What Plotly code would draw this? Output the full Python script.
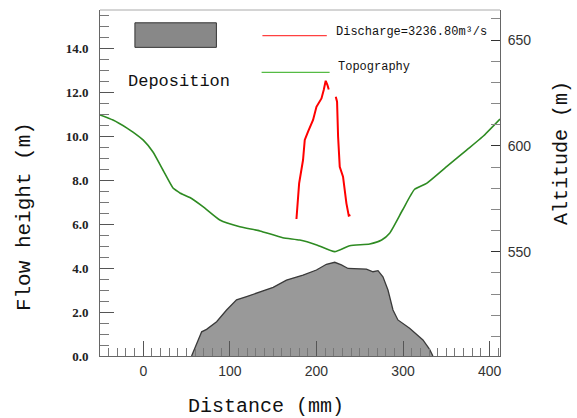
import plotly.graph_objects as go

# ---- data ----
topo_dist = [-50, -35, -18.8, -11.9, 0, 11.2, 22.7, 34.3, 38.9, 42.3, 53.8, 68.9, 88.4, 111.5,
             134.6, 161.1, 180.7, 200.3, 221.1, 238.4, 261.5, 275.3, 284.5, 299.5, 313.4,
             327.2, 350.3, 373.4, 391.8, 412]
topo_alt = [614.6, 612.2, 608.4, 606.5, 602.7, 597.1, 588.6, 580.1, 578.7, 577.7, 575.6, 571.3,
            565.0, 561.8, 559.8, 556.6, 555.5, 553.2, 550.0, 552.8, 553.6, 555.5, 558.7, 569.7,
            579.5, 582.3, 590.2, 598.0, 604.3, 612.7]

dep_dist = [55.8, 61.5, 67.4, 73.1, 84.7, 96.2, 107.7, 119.3, 134.6, 150, 165.4, 184.5, 200,
            211.5, 221.1, 228.8, 236.5, 257.7, 265.3, 271.1, 276.8, 282.6, 288.4, 294.1, 307.6,
            323, 330.7, 334.5]
dep_height = [0, 0.5, 1.1, 1.21, 1.56, 2.09, 2.55, 2.7, 2.92, 3.12, 3.45, 3.68, 3.91, 4.17, 4.26,
              4.14, 3.98, 3.95, 3.83, 3.88, 3.6, 3.0, 2.09, 1.64, 1.26, 0.73, 0.3, 0]

flow_dist = [176.9, 180, 184.5, 186.5, 190.3, 196.1, 200, 205.8, 208.4, 210.7, 212.7, 214.2, None,
             222.3, 223.8, 225, 226.9, 230.7, 234.6, 237.3, 239.2]
flow_height = [6.23, 7.85, 8.91, 9.82, 10.2, 10.73, 11.33, 11.71, 12.09, 12.51, 12.32, 12.12, None,
               11.79, 11.56, 9.97, 8.6, 8.15, 6.94, 6.38, 6.41]

x_ticks = [0, 100, 200, 300, 400]
left_ticks = [0, 2, 4, 6, 8, 10, 12, 14]
right_ticks = [550, 600, 650]

MONO = "Liberation Mono"

fig = go.Figure()
fig.add_trace(go.Scatter(x=dep_dist, y=dep_height, mode="lines", fill="tozeroy",
                         fillcolor="#999999", line=dict(color="#3a3a3a", width=1.3),
                         name="Deposition", showlegend=False))
fig.add_trace(go.Scatter(x=flow_dist, y=flow_height, mode="lines", connectgaps=False,
                         line=dict(color="#ff0000", width=2), name="Discharge",
                         showlegend=False))
fig.add_trace(go.Scatter(x=topo_dist, y=topo_alt, mode="lines", yaxis="y2",
                         line=dict(color="#2e8b22", width=1.6, shape="spline", smoothing=0.5),
                         name="Topography", showlegend=False))

fig.update_layout(
    width=577, height=418,
    margin=dict(l=100, r=77, t=10, b=62),
    paper_bgcolor="white", plot_bgcolor="white",
    xaxis=dict(range=[-50, 412], tickvals=x_ticks, ticks="inside", ticklen=15,
               tickcolor="#555", showline=True, linecolor="#666", mirror=False,
               showgrid=False, zeroline=False,
               tickfont=dict(family="Liberation Sans", size=14, color="#333"),
               minor=dict(dtick=10, tick0=0, ticks="inside", ticklen=8, tickcolor="#777"),
               ticklabelstandoff=2),
    yaxis=dict(range=[0, 15.73], tickvals=left_ticks, tickformat=".1f", ticks="inside",
               ticklen=14, tickcolor="#555", showline=True, linecolor="#666",
               showgrid=False, zeroline=False,
               tickfont=dict(family="Liberation Serif", size=13, color="#222", weight="bold"),
               minor=dict(dtick=0.5, tick0=0, ticks="inside", ticklen=9, tickcolor="#777"),
               ticklabelstandoff=8),
    yaxis2=dict(range=[500.7, 664.2], tickvals=right_ticks, overlaying="y", side="right",
                ticks="inside", ticklen=9, tickcolor="#333", showline=True, linecolor="#666",
                showgrid=False, zeroline=False,
                tickfont=dict(family="Liberation Sans", size=14, color="#333"),
                minor=dict(dtick=10, tick0=550, ticks="inside", ticklen=9, tickcolor="#888"),
                ticklabelstandoff=4),
)

# top frame line
fig.add_shape(type="line", xref="paper", yref="paper", x0=0, x1=1, y0=1, y1=1,
              line=dict(color="#aaaaaa", width=1))

# legend drawn in paper coordinates
fig.add_shape(type="rect", xref="paper", yref="paper", x0=0.0873, x1=0.291, y0=0.892, y1=0.963,
              fillcolor="#888888", line=dict(color="#333", width=1))
fig.add_shape(type="line", xref="paper", yref="paper", x0=0.406, x1=0.567, y0=0.926, y1=0.926,
              line=dict(color="#ff4040", width=1.2))
fig.add_shape(type="line", xref="paper", yref="paper", x0=0.404, x1=0.574, y0=0.820, y1=0.820,
              line=dict(color="#55bb44", width=1.2))

ann = [
    dict(text="Deposition", x=0.197, y=0.793, xanchor="center", yanchor="middle",
         font=dict(family=MONO, size=17, color="#111")),
    dict(text="Discharge=3236.80m³/s", x=0.586, y=0.937, xanchor="left", yanchor="middle",
         font=dict(family=MONO, size=12, color="#111")),
    dict(text="Topography", x=0.591, y=0.836, xanchor="left", yanchor="middle",
         font=dict(family=MONO, size=12, color="#111")),
    dict(text="Distance (mm)", x=0.416, y=-0.1466, xanchor="center", yanchor="middle",
         font=dict(family=MONO, size=20, color="#111")),
    dict(text="Flow height (m)", x=-0.187, y=0.402, xanchor="center", yanchor="middle",
         textangle=-90, font=dict(family=MONO, size=21, color="#111")),
    dict(text="Altitude (m)", x=1.155, y=0.587, xanchor="center", yanchor="middle",
         textangle=-90, font=dict(family=MONO, size=20, color="#111")),
]
for a in ann:
    fig.add_annotation(xref="paper", yref="paper", showarrow=False, **a)

fig.write_html("out.html")
